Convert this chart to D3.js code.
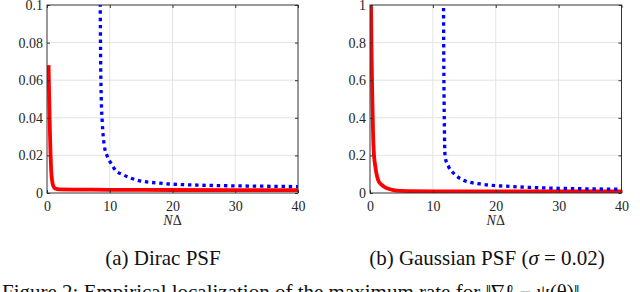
<!DOCTYPE html>
<html lang="en">
<head>
  <meta charset="UTF-8">
  <title>Dirac vs Gaussian PSF</title>
  <script src="https://d3js.org/d3.v7.min.js"></script>
  <style>
    body {
      margin: 0;
      background: #fff;
      overflow: hidden;
    }
    svg text {
      font-family: "Liberation Serif", "Times New Roman", Times, Tinos, "Nimbus Roman", "Nimbus Roman No9 L", FreeSerif, "Noto Serif", "DejaVu Serif", serif;
      fill: #262626;
    }
    .grid line {
      stroke: #e3e3e3;
      stroke-width: 1;
    }
    .axis text {
      font-size: 14px;
    }
    .axis line {
      stroke: #333;
    }
    .caption {
      font-size: 21px;
      fill: #111;
    }
  </style>
</head>
<body>
  <svg width="640" height="292"></svg>

  <script>
    // shared x ticks
    const xTicks = [0, 10, 20, 30, 40];

    // (a) Dirac PSF
    const diracYTicks = [0, 0.02, 0.04, 0.06, 0.08, 0.1];
    const diracRedX = [0.25, 0.35, 0.45, 0.55, 0.65, 0.8, 1.0, 1.3, 2, 5, 10, 20, 40];
    const diracRedY = [0.068, 0.05, 0.035, 0.022, 0.013, 0.007, 0.0038, 0.0024, 0.0019, 0.0018, 0.0017, 0.0016, 0.0015];
    const diracBlueX = [8.42, 8.48, 8.55, 8.65, 8.8, 9.1, 9.6, 10.2, 10.9, 12.2, 14.3, 18, 24, 30, 35, 40];
    const diracBlueY = [0.12, 0.1, 0.07, 0.05, 0.038, 0.026, 0.0195, 0.0158, 0.0122, 0.0096, 0.0069, 0.0052, 0.0042, 0.0038, 0.0036, 0.0034];

    // (b) Gaussian PSF
    const gaussYTicks = [0, 0.2, 0.4, 0.6, 0.8, 1];
    const gaussRedX = [0.12, 0.16, 0.25, 0.37, 0.5, 0.64, 0.85, 1.3, 1.8, 2.4, 3.2, 4.2, 6, 10, 20, 40];
    const gaussRedY = [1.1, 1.0, 0.75, 0.5, 0.3, 0.2, 0.14, 0.069, 0.045, 0.03, 0.02, 0.013, 0.01, 0.009, 0.008, 0.008];
    const gaussBlueX = [11.68, 11.72, 11.78, 11.85, 11.95, 12.5, 13.3, 14.8, 17.5, 22.8, 30, 35, 40];
    const gaussBlueY = [1.1, 0.8, 0.5, 0.3, 0.19, 0.14, 0.105, 0.069, 0.048, 0.034, 0.025, 0.022, 0.02];

    const svg = d3.select("svg");
    const plotTop = 5, plotBottom = 193;

    function panel(id, left, right, yMax, yTicks, redX, redY, blueX, blueY, caption, captionX) {
      const x = d3.scaleLinear().domain([0, 40]).range([left, right]);
      const y = d3.scaleLinear().domain([0, yMax]).range([plotBottom, plotTop]);
      const g = svg.append("g");

      // grid
      const grid = g.append("g").attr("class", "grid");
      grid.selectAll(".gx").data(xTicks.slice(1, -1)).join("line")
        .attr("class", "gx")
        .attr("x1", d => x(d)).attr("x2", d => x(d))
        .attr("y1", plotTop).attr("y2", plotBottom);
      grid.selectAll(".gy").data(yTicks.slice(1, -1)).join("line")
        .attr("class", "gy")
        .attr("x1", left).attr("x2", right)
        .attr("y1", d => y(d)).attr("y2", d => y(d));

      // clip to plot area
      svg.append("clipPath").attr("id", "clip" + id)
        .append("rect").attr("x", left).attr("y", plotTop)
        .attr("width", right - left).attr("height", plotBottom - plotTop);

      const line = d3.line()
        .x(d => x(d[0])).y(d => y(d[1]))
        .curve(d3.curveMonotoneX);

      const plot = g.append("g").attr("clip-path", `url(#clip${id})`);
      plot.append("path")
        .datum(redX.map((v, i) => [v, redY[i]]))
        .attr("d", line)
        .attr("fill", "none")
        .attr("stroke", "#ff0000")
        .attr("stroke-width", 3.8);
      plot.append("path")
        .datum(blueX.map((v, i) => [v, blueY[i]]))
        .attr("d", line)
        .attr("fill", "none")
        .attr("stroke", "#0000ff")
        .attr("stroke-width", 3.3)
        .attr("stroke-dasharray", "3.4,3.8");

      // axes, ticks pointing inwards like matlab
      const ax = g.append("g").attr("class", "axis")
        .attr("transform", `translate(0,${plotBottom})`)
        .call(d3.axisBottom(x).tickValues(xTicks).tickSize(-3).tickPadding(6));
      ax.select(".domain").remove();
      ax.selectAll("text").attr("dy", "0.85em");

      const ay = g.append("g").attr("class", "axis")
        .attr("transform", `translate(${left},0)`)
        .call(d3.axisLeft(y).tickValues(yTicks).tickFormat(d => String(d)).tickSize(-3).tickPadding(4));
      ay.select(".domain").remove();

      // top and right ticks
      g.append("g").attr("class", "axis")
        .attr("transform", `translate(0,${plotTop})`)
        .call(d3.axisTop(x).tickValues(xTicks).tickSize(-3).tickFormat(""))
        .select(".domain").remove();
      g.append("g").attr("class", "axis")
        .attr("transform", `translate(${right},0)`)
        .call(d3.axisRight(y).tickValues(yTicks).tickSize(-3).tickFormat(""))
        .select(".domain").remove();

      // strip the sans-serif that d3 puts on axis groups
      g.selectAll(".axis").attr("font-family", null);

      // box
      g.append("rect")
        .attr("x", left).attr("y", plotTop)
        .attr("width", right - left).attr("height", plotBottom - plotTop)
        .attr("fill", "none").attr("stroke", "#333").attr("stroke-width", 1);

      // x label
      const lab = g.append("text")
        .attr("x", (left + right) / 2).attr("y", 225)
        .attr("text-anchor", "middle")
        .style("font-size", "14px");
      lab.append("tspan").style("font-style", "italic").text("N");
      lab.append("tspan").text("Δ");

      // caption
      const cap = g.append("text").attr("class", "caption")
        .attr("x", captionX).attr("y", 265)
        .attr("text-anchor", "middle");
      caption.forEach(part => {
        cap.append("tspan").style("font-style", part[1] ? "italic" : "normal").text(part[0]);
      });
    }

    panel("a", 47, 298, 0.1, diracYTicks, diracRedX, diracRedY, diracBlueX, diracBlueY,
      [["(a) Dirac PSF", false]], 163);
    panel("b", 370, 621.5, 1, gaussYTicks, gaussRedX, gaussRedY, gaussBlueX, gaussBlueY,
      [["(b) Gaussian PSF (", false], ["σ", true], [" = 0.02)", false]], 487);

    // figure caption, cut off by the page edge like the source figure
    svg.append("text").attr("class", "caption")
      .attr("x", 2).attr("y", 299)
      .text("Figure 2: Empirical localization of the maximum rate for ‖∇ℓ − ψ(θ)‖");
  </script>
</body>
</html>
